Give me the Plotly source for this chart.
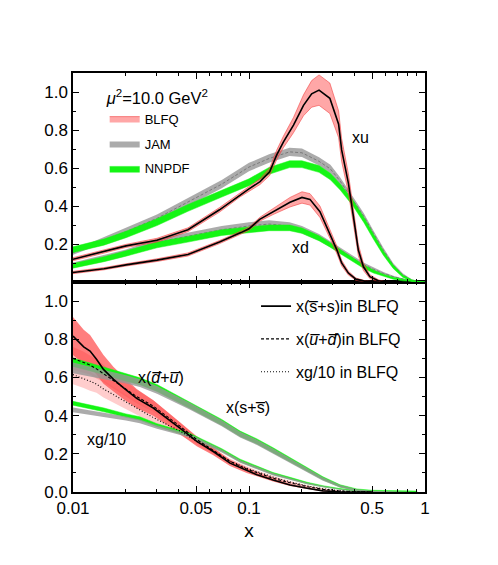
import plotly.graph_objects as go

# ---- top panel: valence xu, xd at mu^2 = 10 GeV^2 ----
x_pdf = [0.01, 0.015, 0.02, 0.03, 0.045, 0.07, 0.1, 0.13, 0.17, 0.2, 0.25, 0.29,
         0.33, 0.39, 0.45, 0.51, 0.58, 0.66, 0.75, 0.84, 0.92, 1.0]

jam_xu = [0.155, 0.22, 0.265, 0.335, 0.42, 0.515, 0.605, 0.65, 0.685, 0.68, 0.635, 0.595,
          0.53, 0.43, 0.345, 0.256, 0.168, 0.089, 0.037, 0.01, 0.002, 0.0]
jam_xu_err = [0.012, 0.015, 0.018, 0.02, 0.022, 0.022, 0.022, 0.022, 0.022, 0.022, 0.022, 0.022,
              0.02, 0.018, 0.016, 0.014, 0.012, 0.01, 0.008, 0.005, 0.002, 0.0]
nnpdf_xu = [0.17, 0.21, 0.25, 0.315, 0.39, 0.465, 0.525, 0.585, 0.62, 0.62, 0.595, 0.555,
            0.5, 0.415, 0.326, 0.238, 0.152, 0.08, 0.03, 0.008, 0.001, 0.0]
nnpdf_xu_err = [0.015, 0.016, 0.017, 0.018, 0.018, 0.018, 0.018, 0.018, 0.018, 0.018, 0.018, 0.017,
                0.016, 0.015, 0.014, 0.013, 0.011, 0.009, 0.006, 0.004, 0.002, 0.0]

jam_xd = [0.09, 0.13, 0.155, 0.21, 0.24, 0.275, 0.295, 0.305, 0.295, 0.275, 0.235, 0.2,
          0.168, 0.125, 0.09, 0.067, 0.045, 0.028, 0.014, 0.005, 0.001, 0.0]
jam_xd_err = [0.012, 0.014, 0.016, 0.018, 0.02, 0.02, 0.02, 0.02, 0.02, 0.02, 0.018, 0.016,
              0.015, 0.013, 0.011, 0.009, 0.007, 0.005, 0.004, 0.002, 0.001, 0.0]
nnpdf_xd = [0.085, 0.12, 0.15, 0.195, 0.225, 0.26, 0.275, 0.285, 0.285, 0.27, 0.23, 0.195,
            0.16, 0.115, 0.08, 0.055, 0.035, 0.02, 0.01, 0.004, 0.001, 0.0]
nnpdf_xd_err = [0.012, 0.013, 0.014, 0.015, 0.015, 0.015, 0.015, 0.015, 0.015, 0.014, 0.013, 0.012,
                0.011, 0.01, 0.009, 0.008, 0.006, 0.005, 0.004, 0.002, 0.001, 0.0]

blfq_xu_x = [0.01, 0.015, 0.02, 0.03, 0.045, 0.068, 0.089, 0.1, 0.1155, 0.131, 0.1435, 0.157,
             0.179, 0.204, 0.227, 0.25, 0.288, 0.323, 0.336, 0.367, 0.392, 0.418, 0.447, 0.486,
             0.543, 0.6]
blfq_xu = [0.12, 0.16, 0.19, 0.22, 0.275, 0.38, 0.46, 0.49, 0.528, 0.58, 0.668, 0.738,
           0.826, 0.93, 0.99, 1.01, 0.967, 0.83, 0.695, 0.52, 0.344, 0.168, 0.08, 0.028,
           0.007, 0.0]
blfq_xu_err = [0.008, 0.008, 0.008, 0.01, 0.01, 0.012, 0.012, 0.012, 0.015, 0.02, 0.025, 0.03,
               0.04, 0.055, 0.07, 0.08, 0.08, 0.07, 0.06, 0.05, 0.04, 0.03, 0.02, 0.01,
               0.005, 0.0]

blfq_xd_x = [0.01, 0.015, 0.02, 0.03, 0.045, 0.068, 0.09, 0.1, 0.115, 0.137, 0.156, 0.171,
             0.2, 0.222, 0.253, 0.288, 0.316, 0.336, 0.367, 0.405, 0.464, 0.55]
blfq_xd = [0.05, 0.07, 0.09, 0.115, 0.145, 0.21, 0.26, 0.28, 0.33, 0.37, 0.4, 0.42,
           0.445, 0.435, 0.37, 0.256, 0.168, 0.1, 0.047, 0.015, 0.002, 0.0]
blfq_xd_err = [0.006, 0.006, 0.006, 0.007, 0.008, 0.008, 0.008, 0.008, 0.01, 0.015, 0.02, 0.025,
               0.03, 0.03, 0.03, 0.025, 0.02, 0.015, 0.01, 0.006, 0.003, 0.0]

# ---- bottom panel: sea quarks and gluon ----
x_sea = [0.01, 0.015, 0.02, 0.024, 0.03, 0.046, 0.07, 0.089, 0.111, 0.137, 0.171, 0.214,
         0.263, 0.329, 0.41, 0.5, 0.7, 0.9]
nnpdf_sea = [0.68, 0.635, 0.6, 0.58, 0.545, 0.455, 0.365, 0.305, 0.265, 0.22, 0.17, 0.12,
             0.072, 0.032, 0.012, 0.006, 0.004, 0.003]
nnpdf_sea_err = [0.022, 0.02, 0.02, 0.018, 0.018, 0.016, 0.015, 0.014, 0.013, 0.012, 0.011, 0.01,
                 0.008, 0.006, 0.004, 0.003, 0.002, 0.002]
jam_sea = [0.65, 0.615, 0.59, 0.57, 0.535, 0.45, 0.36, 0.3, 0.26, 0.215, 0.165, 0.115,
           0.068, 0.03, 0.01, 0.003, 0.001, 0.0]
jam_sea_err = [0.028, 0.025, 0.022, 0.02, 0.02, 0.018, 0.016, 0.015, 0.014, 0.013, 0.012, 0.011,
               0.009, 0.007, 0.005, 0.003, 0.001, 0.0]
nnpdf_g = [0.465, 0.43, 0.4, 0.385, 0.35, 0.3, 0.22, 0.165, 0.13, 0.097, 0.072, 0.047,
           0.03, 0.016, 0.006, 0.002, 0.001, 0.0]
nnpdf_g_err = [0.01, 0.01, 0.009, 0.009, 0.008, 0.008, 0.007, 0.007, 0.006, 0.005, 0.005, 0.004,
               0.003, 0.002, 0.002, 0.001, 0.0, 0.0]
jam_g = [0.43, 0.405, 0.385, 0.37, 0.34, 0.295, 0.215, 0.16, 0.125, 0.093, 0.068, 0.045,
         0.028, 0.014, 0.005, 0.002, 0.0, 0.0]
jam_g_err = [0.012, 0.011, 0.01, 0.01, 0.009, 0.009, 0.008, 0.007, 0.006, 0.006, 0.005, 0.004,
             0.003, 0.002, 0.002, 0.001, 0.0, 0.0]

blfq_b_x = [0.01, 0.0115, 0.0125, 0.0136, 0.0149, 0.017, 0.0193, 0.023, 0.0286, 0.0356, 0.0405,
            0.0505, 0.0627, 0.078, 0.097, 0.111, 0.137, 0.171, 0.214, 0.263, 0.33, 0.41, 0.5]
blfq_ss = [0.817, 0.76, 0.738, 0.695, 0.642, 0.59, 0.547, 0.49, 0.44, 0.375, 0.335,
           0.265, 0.212, 0.151, 0.112, 0.09, 0.063, 0.037, 0.02, 0.006, 0.001, 0.0, 0.0]
blfq_ss_err = [0.1, 0.09, 0.085, 0.08, 0.075, 0.065, 0.06, 0.05, 0.04, 0.035, 0.03,
               0.025, 0.02, 0.015, 0.012, 0.01, 0.008, 0.006, 0.004, 0.003, 0.001, 0.0, 0.0]
blfq_ud = [0.7, 0.68, 0.665, 0.645, 0.62, 0.585, 0.55, 0.5, 0.45, 0.385, 0.345,
           0.275, 0.22, 0.16, 0.12, 0.1, 0.072, 0.048, 0.028, 0.014, 0.005, 0.001, 0.0]
blfq_ud_err = [0.06, 0.055, 0.05, 0.05, 0.045, 0.04, 0.04, 0.035, 0.03, 0.025, 0.02,
               0.018, 0.015, 0.012, 0.01, 0.008, 0.006, 0.005, 0.004, 0.003, 0.001, 0.0, 0.0]
blfq_g = [0.615, 0.595, 0.58, 0.565, 0.54, 0.51, 0.48, 0.44, 0.39, 0.345, 0.32,
          0.265, 0.215, 0.162, 0.125, 0.105, 0.078, 0.053, 0.032, 0.017, 0.006, 0.001, 0.0]
blfq_g_err = [0.05, 0.05, 0.05, 0.045, 0.045, 0.04, 0.04, 0.035, 0.03, 0.025, 0.02,
              0.018, 0.015, 0.012, 0.01, 0.008, 0.006, 0.005, 0.004, 0.003, 0.001, 0.0, 0.0]

FONT = "Liberation Sans, Arial, sans-serif"
RED_EDGE = "rgba(240,60,60,0.7)"
GRAY = "rgba(150,150,150,0.8)"
GREEN = "#14f514"


def band(x, y, err, fill, line_color="rgba(0,0,0,0)", lw=0, **kw):
    up = [a + e for a, e in zip(y, err)]
    lo = [max(a - e, 0) for a, e in zip(y, err)]
    return go.Scatter(x=list(x) + list(x)[::-1], y=up + lo[::-1], fill="toself",
                      fillcolor=fill, mode="lines",
                      line=dict(color=line_color, width=lw), hoverinfo="skip", **kw)


fig = go.Figure()

# top panel (x2, y2)
top = dict(xaxis="x2", yaxis="y2")
for y, e, show in [(jam_xu, jam_xu_err, True), (jam_xd, jam_xd_err, False)]:
    fig.add_trace(band(x_pdf, y, e, GRAY, name="JAM", legendgroup="jam", legendrank=2,
                       showlegend=show, **top))
    fig.add_trace(go.Scatter(x=x_pdf, y=y, mode="lines", showlegend=False,
                             line=dict(color="rgba(115,115,115,0.9)", width=1, dash="3px,2px"), **top))
for y, e, show in [(nnpdf_xu, nnpdf_xu_err, True), (nnpdf_xd, nnpdf_xd_err, False)]:
    fig.add_trace(band(x_pdf, y, e, GREEN, line_color=GREEN, lw=0.5, name="NNPDF",
                       legendgroup="nnpdf", legendrank=3, showlegend=show, **top))
for xx, y, e, show in [(blfq_xu_x, blfq_xu, blfq_xu_err, True),
                       (blfq_xd_x, blfq_xd, blfq_xd_err, False)]:
    fig.add_trace(band(xx, y, e, "rgba(255,60,60,0.45)", line_color=RED_EDGE, lw=0.8,
                       name="BLFQ", legendgroup="blfq", legendrank=1, showlegend=show, **top))
    fig.add_trace(go.Scatter(x=xx, y=y, mode="lines", showlegend=False,
                             line=dict(color="black", width=1.6), **top))

# bottom panel (x, y)
fig.add_trace(band(blfq_b_x, blfq_ss, blfq_ss_err, "rgba(255,40,40,0.6)", showlegend=False))
fig.add_trace(band(blfq_b_x, blfq_ud, blfq_ud_err, "rgba(255,60,60,0.3)", showlegend=False))
fig.add_trace(band(blfq_b_x, blfq_g, blfq_g_err, "rgba(255,90,90,0.3)", showlegend=False))
fig.add_trace(band(x_sea, nnpdf_sea, nnpdf_sea_err, GREEN, line_color=GREEN, lw=0.5, showlegend=False))
fig.add_trace(band(x_sea, nnpdf_g, nnpdf_g_err, GREEN, line_color=GREEN, lw=0.5, showlegend=False))
fig.add_trace(band(x_sea, jam_sea, jam_sea_err, GRAY, showlegend=False))
fig.add_trace(band(x_sea, jam_g, jam_g_err, GRAY, showlegend=False))

bl = dict(legend="legend2")
fig.add_trace(go.Scatter(x=blfq_b_x, y=blfq_ss, mode="lines", name="x(s\u0305+s)in BLFQ",
                         line=dict(color="black", width=1.6), legendgroup="a", **bl))
fig.add_trace(go.Scatter(x=blfq_b_x, y=blfq_ud, mode="lines",
                         name="x(<i>u\u0305</i>+<i>d\u0305</i>)in BLFQ",
                         line=dict(color="black", width=1.1, dash="3px,2px"), legendgroup="b", **bl))
fig.add_trace(go.Scatter(x=blfq_b_x, y=blfq_g, mode="lines", name="xg/10 in BLFQ",
                         line=dict(color="black", width=1.1, dash="1px,2px"), legendgroup="c", **bl))

axis_common = dict(showline=True, linecolor="black", linewidth=1.5, mirror="allticks",
                   ticks="inside", ticklen=6, tickwidth=1, tickcolor="black",
                   showgrid=False, zeroline=False,
                   tickfont=dict(family=FONT, size=17, color="black"))
x_minor = [0.02, 0.03, 0.04, 0.06, 0.07, 0.08, 0.09, 0.2, 0.3, 0.4, 0.6, 0.7, 0.8, 0.9]
xa = dict(axis_common, type="log", range=[-2, 0],
          tickvals=[0.01, 0.05, 0.1, 0.5, 1], ticktext=["0.01", "0.05", "0.1", "0.5", "1"],
          minor=dict(tickvals=x_minor, ticks="inside", ticklen=3, tickcolor="black"))
ya_minor = dict(dtick=0.1, tick0=0, ticks="inside", ticklen=3, tickcolor="black")

# the page body adds an 8px offset, so margins are shifted to keep the frame in place
split = 210 / 419
fig.update_layout(
    width=498, height=565,
    margin=dict(l=65, r=81, t=65, b=81),
    paper_bgcolor="white", plot_bgcolor="white",
    font=dict(family=FONT, color="black"),
    xaxis=dict(xa, anchor="y", title=dict(text="x", font=dict(size=19), standoff=7)),
    yaxis=dict(axis_common, domain=[0, split], range=[0, 1.1],
               tickvals=[0, 0.2, 0.4, 0.6, 0.8, 1.0], tickformat=".1f", minor=ya_minor),
    xaxis2=dict(xa, anchor="y2", matches="x", showticklabels=False),
    yaxis2=dict(axis_common, domain=[split, 1], range=[0, 1.1],
                tickvals=[0.2, 0.4, 0.6, 0.8, 1.0], tickformat=".1f", minor=ya_minor),
    legend=dict(x=0.09, y=0.978, xanchor="left", yanchor="top", bgcolor="rgba(0,0,0,0)",
                title=dict(text="<i>\u03bc</i><sup>2</sup>=10.0 GeV<sup>2</sup>",
                           font=dict(size=16.5)),
                font=dict(size=13), traceorder="grouped", tracegroupgap=5, itemwidth=30),
    legend2=dict(x=0.52, y=0.484, xanchor="left", yanchor="top", bgcolor="rgba(0,0,0,0)",
                 font=dict(size=16), traceorder="grouped", tracegroupgap=9, itemwidth=30),
    showlegend=True,
)

ann = dict(showarrow=False, font=dict(family=FONT, size=16, color="black"))
fig.add_annotation(text="xu", x=-0.364, y=0.763, xref="x2", yref="y2", **ann)
fig.add_annotation(text="xd", x=-0.705, y=0.179, xref="x2", yref="y2", **ann)
fig.add_annotation(text="x(<i>d\u0305</i>+<i>u\u0305</i>)", x=-1.5, y=0.6, xref="x", yref="y", **ann)
fig.add_annotation(text="x(s+s\u0305)", x=-1.006, y=0.442, xref="x", yref="y", **ann)
fig.add_annotation(text="xg/10", x=-1.807, y=0.274, xref="x", yref="y", **ann)

fig.write_html("out.html")
